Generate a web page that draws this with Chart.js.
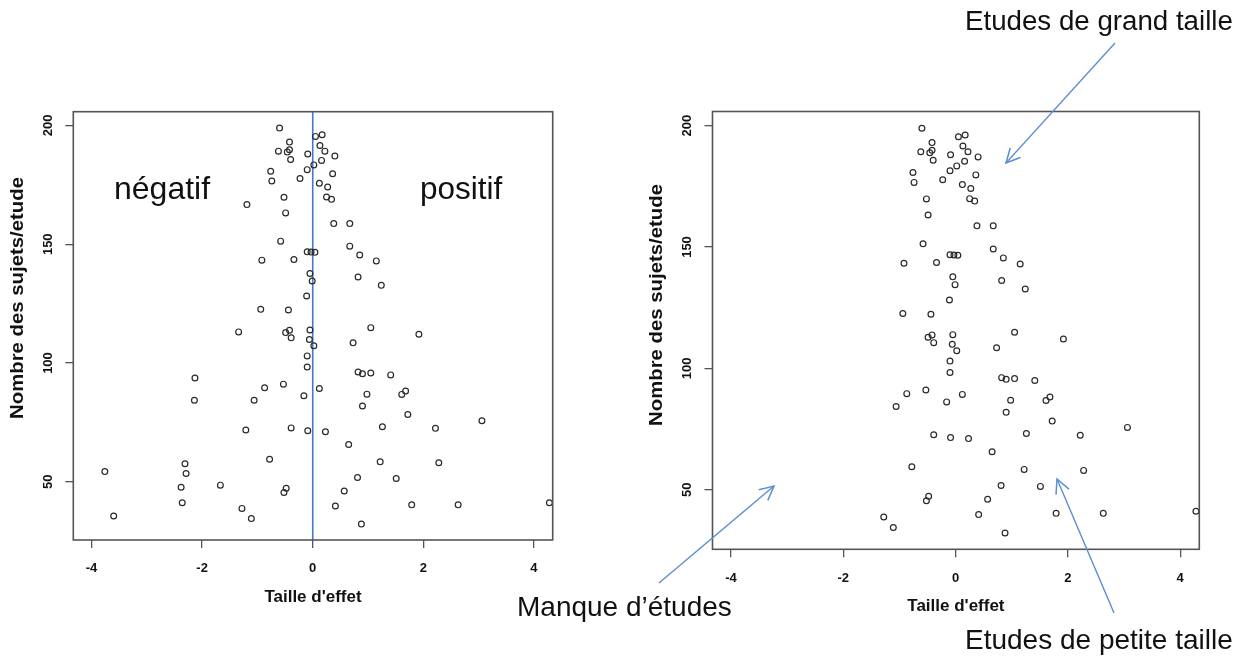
<!DOCTYPE html>
<html lang="fr">
<head>
<meta charset="UTF-8" />
<title>Funnel plot</title>
<script src="https://cdn.jsdelivr.net/npm/chart.js@4.4.1/dist/chart.umd.min.js"></script>
<style>
  html, body { margin: 0; padding: 0; background: #fff; }
  body { width: 1247px; height: 656px; position: relative; overflow: hidden;
         font-family: "Liberation Sans", Arial, sans-serif; }
  canvas { position: absolute; left: 0; top: 0; }
  svg { position: absolute; left: 0; top: 0; }
  .note { position: absolute; color: #111; white-space: nowrap; line-height: 1; }
</style>
</head>
<body>
<canvas id="leftPlot" width="1247" height="656"></canvas>
<canvas id="rightPlot" width="1247" height="656"></canvas>

<div class="note" style="left:114px; top:172px; font-size:32px">négatif</div>
<div class="note" style="left:420px; top:173px; font-size:31.5px">positif</div>
<div class="note" style="left:965px; top:7px; font-size:27.7px">Etudes de grand taille</div>
<div class="note" style="left:517px; top:593px; font-size:28px">Manque d’études</div>
<div class="note" style="left:965px; top:626px; font-size:28px">Etudes de petite taille</div>

<svg width="1247" height="656">
  <defs>
    <marker id="head" markerWidth="18" markerHeight="18" refX="15" refY="8" orient="auto" markerUnits="userSpaceOnUse">
      <path d="M1,1 L15,8 L1,15" fill="none" stroke="#5b8fd0" stroke-width="1.5" />
    </marker>
  </defs>
  <line x1="1115" y1="43" x2="1006" y2="163" stroke="#5b8fd0" stroke-width="1.4" marker-end="url(#head)" />
  <line x1="659" y1="583" x2="774" y2="486" stroke="#5b8fd0" stroke-width="1.4" marker-end="url(#head)" />
  <line x1="1114" y1="613" x2="1057" y2="479" stroke="#5b8fd0" stroke-width="1.4" marker-end="url(#head)" />
</svg>

<script>
  // effet de chaque etude (axe x) et nombre de sujets (axe y)
  const effectSize = [
    -0.60, 0.05, 0.17, -0.42, -0.62, -0.46, -0.42, -0.09, 0.13, 0.22,
    0.40, -0.40, 0.16, 0.02, -0.10, -0.76, 0.36, -0.23, -0.74, 0.12,
    0.27, 0.25, 0.34, -1.19, -0.52, -0.49, 0.38, 0.67, -0.58, 0.67,
    -0.10, -0.03, 0.04, 0.85, -0.92, -0.34, 1.15, 0.82, -0.05, -0.01,
    1.24, -0.11, -0.94, -0.44, -1.34, -0.49, -0.42, -0.39, -0.05, -0.06,
    0.02, -0.10, -0.10, -2.13, -0.87, -0.53, 0.12, -0.16, -2.14, -1.06,
    -1.21, -0.39, -0.09, -0.78, -2.31, -2.29, -3.76, -2.38, -1.67, -0.48,
    -0.52, -2.36, -1.28, -1.11, -3.60, 1.05, 1.92, 0.73, 0.82, 0.90,
    1.05, 1.41, 0.98, 1.61, 1.68, 0.90, 1.72, 3.06, 0.23, 1.26,
    2.22, 0.65, 1.22, 2.28, 0.81, 1.51, 0.57, 0.41, 1.79, 2.63,
    4.28, 0.88
  ];
  const subjects = [
    198.9, 195.4, 196.1, 193.0, 189.2, 188.8, 189.8, 188.0, 191.6, 189.2,
    187.1, 185.7, 185.3, 183.4, 181.4, 180.7, 179.7, 177.7, 176.6, 175.7,
    174.1, 169.9, 168.9, 166.7, 169.8, 163.2, 158.7, 158.7, 151.3, 149.2,
    146.8, 146.7, 146.6, 145.5, 143.3, 143.6, 143.0, 136.2, 137.7, 134.5,
    132.7, 128.2, 122.6, 122.3, 113.1, 112.8, 113.8, 110.6, 113.9, 109.9,
    107.3, 103.0, 98.3, 93.7, 89.6, 91.1, 89.3, 86.2, 84.3, 84.3,
    71.8, 72.7, 71.5, 59.5, 57.6, 53.5, 54.3, 47.7, 48.6, 47.3,
    45.5, 41.2, 38.8, 34.5, 35.6, 114.9, 112.1, 108.5, 96.2, 95.5,
    95.8, 95.0, 86.9, 86.8, 88.2, 81.9, 78.3, 75.7, 71.1, 73.2,
    72.5, 65.7, 58.4, 58.0, 51.8, 51.4, 46.1, 39.8, 40.3, 40.3,
    41.2, 32.2
  ];
  // etudes absentes du graphique de droite (petites etudes negatives)
  const missingStudies = [23, 44, 53, 58, 60, 64, 65, 66, 67, 68, 71, 74];
  const xTicks = [-4, -2, 0, 2, 4];
  const yTicks = [50, 100, 150, 200];
  const xTitle = "Taille d'effet";
  const yTitle = "Nombre des sujets/etude";

  const W = 1247, H = 656;
  const Y_W = 40, X_H = 60;
  const axisFont = '"Liberation Sans", Arial, sans-serif';

  // cadre, etiquettes de l'axe y (tournees) et titres, facon R
  const rStyle = {
    id: "rStyle",
    afterDraw(chart) {
      const { ctx, chartArea: a, scales } = chart;
      const o = chart.options.plugins.rStyle;
      ctx.save();
      ctx.strokeStyle = "#555";
      ctx.lineWidth = 1.6;
      ctx.strokeRect(a.left, a.top, a.right - a.left, a.bottom - a.top);

      ctx.fillStyle = "#111";
      ctx.textAlign = "center";
      ctx.textBaseline = "middle";
      ctx.font = "bold 13px " + axisFont;
      scales.y.ticks.forEach((t) => {
        ctx.save();
        ctx.translate(a.left - 25, scales.y.getPixelForValue(t.value));
        ctx.rotate(-Math.PI / 2);
        ctx.fillText(String(t.value), 0, 0);
        ctx.restore();
      });

      ctx.font = "bold 17px " + axisFont;
      ctx.fillText(xTitle, (a.left + a.right) / 2, a.bottom + 57);

      ctx.save();
      ctx.font = "bold 18px " + axisFont;
      ctx.translate(a.left - 55.5, o.yTitleCenter);
      ctx.rotate(-Math.PI / 2);
      ctx.scale(1.13, 1);
      ctx.fillText(yTitle, 0, 0);
      ctx.restore();
      ctx.restore();
    },
  };

  function funnel(id, box, keep, zeroLine, yTitleCenter) {
    const points = [];
    effectSize.forEach((x, i) => {
      if (keep(i)) points.push({ x: x, y: subjects[i] });
    });
    const datasets = [
      {
        type: "scatter",
        data: points,
        pointStyle: "circle",
        pointRadius: 2.9,
        pointBorderWidth: 1.2,
        borderColor: "#2a2a2a",
        backgroundColor: "rgba(0,0,0,0)",
      },
    ];
    if (zeroLine) {
      datasets.push({
        type: "line",
        data: [{ x: 0, y: 25.5 }, { x: 0, y: 205.8 }],
        borderColor: "#4479c6",
        borderWidth: 1.6,
        pointRadius: 0,
      });
    }
    new Chart(document.getElementById(id), {
      data: { datasets: datasets },
      options: {
        responsive: false,
        animation: false,
        events: [],
        layout: {
          padding: {
            left: box.left - Y_W,
            right: W - box.right,
            top: box.top,
            bottom: H - box.bottom - X_H,
          },
        },
        scales: {
          x: {
            type: "linear",
            min: -4.33,
            max: 4.34,
            afterBuildTicks: (s) => { s.ticks = xTicks.map((v) => ({ value: v })); },
            afterFit: (s) => { s.height = X_H; },
            border: { display: false },
            grid: { drawOnChartArea: false, drawTicks: true, tickLength: 8, color: "#555", lineWidth: 1.3 },
            ticks: {
              autoSkip: false,
              maxRotation: 0,
              padding: 13,
              color: "#111",
              font: { family: axisFont, size: 13, weight: "bold" },
            },
          },
          y: {
            type: "linear",
            min: 25.5,
            max: 205.8,
            afterBuildTicks: (s) => { s.ticks = yTicks.map((v) => ({ value: v })); },
            afterFit: (s) => { s.width = Y_W; },
            border: { display: false },
            grid: { drawOnChartArea: false, drawTicks: true, tickLength: 8, color: "#555", lineWidth: 1.3 },
            ticks: { display: false },
          },
        },
        plugins: {
          legend: { display: false },
          tooltip: { enabled: false },
          rStyle: { yTitleCenter: yTitleCenter },
        },
      },
      plugins: [rStyle],
    });
  }

  funnel("leftPlot", { left: 73.3, top: 111.7, right: 552.7, bottom: 540 }, () => true, true, 298);
  funnel("rightPlot", { left: 712.5, top: 111.5, right: 1199.3, bottom: 549.3 },
    (i) => missingStudies.indexOf(i) < 0, false, 305);
</script>
</body>
</html>
